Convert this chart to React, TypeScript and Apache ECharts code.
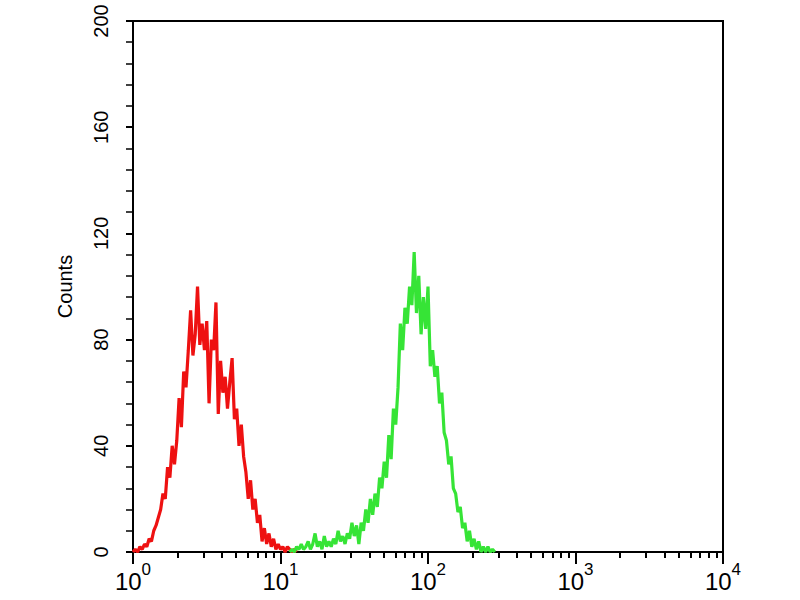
import React, { useEffect, useRef } from "react";
import * as echarts from "echarts";

// Flow-cytometry histogram: 1024 channels over 4 log decades
const CHANNELS_PER_DECADE = 256;
const CHANNEL_STEP = 4;

const redStartChannel = 0;
const redCounts = [
  0, 1, 0, 2, 1, 3, 2, 5, 4, 8,
  10, 13, 16, 22, 20, 32, 28, 40, 33, 42,
  58, 47, 68, 62, 76, 91, 74, 82, 100, 78,
  86, 76, 87, 56, 80, 76, 94, 52, 72, 60,
  66, 54, 64, 73, 50, 54, 40, 48, 36, 30,
  20, 27, 16, 20, 11, 14, 4, 9, 3, 7,
  2, 5, 1, 3, 1, 2, 0, 2, 1, 0,
  1, 0,
];

const greenStartChannel = 272;
const greenCounts = [
  0, 1, 0, 2, 1, 3, 1, 2, 4, 1,
  3, 7, 2, 4, 1, 6, 2, 4, 2, 5,
  3, 8, 4, 6, 3, 7, 5, 11, 6, 10,
  3, 11, 8, 16, 11, 20, 14, 22, 17, 28,
  24, 34, 28, 44, 35, 54, 48, 62, 86, 76,
  92, 86, 100, 93, 113, 90, 104, 82, 96, 84,
  100, 70, 76, 66, 70, 56, 60, 45, 42, 33,
  36, 24, 22, 15, 17, 9, 11, 4, 8, 2,
  5, 1, 4, 0, 2, 0, 2, 0, 1, 0,
];

const decadeExponents = [0, 1, 2, 3, 4];
const minorMultipliers = [2, 3, 4, 5, 6, 7, 8, 9];
const yMax = 200;
const yInterval = 40;

const FONT = "'Liberation Sans', Arial, sans-serif";

function toPoints(start: number, counts: number[]) {
  return counts.map((c, i) => [(start + i * CHANNEL_STEP) / CHANNELS_PER_DECADE, c]);
}

export default function App() {
  const ref = useRef<HTMLDivElement>(null);

  useEffect(() => {
    if (!ref.current) return;
    const chart = echarts.init(ref.current, null, { renderer: "svg" });

    const minorTicks: number[] = [];
    decadeExponents.slice(0, -1).forEach((d) => {
      minorMultipliers.forEach((m) => minorTicks.push(d + Math.log10(m)));
    });

    const axisLineStyle = { color: "#000", width: 2 };

    chart.setOption({
      animation: false,
      backgroundColor: "#fff",
      grid: {
        left: 133,
        right: 77,
        top: 21,
        bottom: 48,
        show: true,
        borderColor: "#000",
        borderWidth: 2,
        backgroundColor: "transparent",
      },
      xAxis: [
        {
          type: "value",
          min: 0,
          max: 4,
          position: "bottom",
          splitLine: { show: false },
          axisLine: { show: true, lineStyle: axisLineStyle },
          axisTick: {
            show: true,
            inside: false,
            length: 12,
            lineStyle: { color: "#000", width: 2 },
            customValues: decadeExponents,
          },
          axisLabel: {
            show: true,
            margin: 9,
            customValues: decadeExponents,
            formatter: (v: number) => `{b|10}{s|${Math.round(v)}}`,
            rich: {
              b: { fontSize: 24, fontFamily: FONT, color: "#000", lineHeight: 32, verticalAlign: "bottom" },
              s: { fontSize: 17, fontFamily: FONT, color: "#000", lineHeight: 32, verticalAlign: "top" },
            },
          },
        },
        {
          type: "value",
          min: 0,
          max: 4,
          position: "bottom",
          splitLine: { show: false },
          axisLine: { show: false },
          axisLabel: { show: false },
          axisTick: {
            show: true,
            inside: false,
            length: 6,
            lineStyle: { color: "#000", width: 2 },
            customValues: minorTicks,
          },
        },
      ],
      yAxis: {
        type: "value",
        min: 0,
        max: yMax,
        interval: yInterval,
        name: "Counts",
        nameLocation: "middle",
        nameRotate: 90,
        nameGap: 58,
        nameTextStyle: { fontSize: 20, fontFamily: FONT, color: "#000" },
        splitLine: { show: false },
        axisLine: { show: true, lineStyle: axisLineStyle },
        axisTick: { show: true, length: 7, lineStyle: { color: "#000", width: 2 } },
        minorTick: { show: true, splitNumber: 5, length: 7, lineStyle: { color: "#000", width: 1.5 } },
        axisLabel: {
          rotate: 90,
          margin: 22,
          fontSize: 20,
          fontFamily: FONT,
          color: "#000",
        },
      },
      series: [
        {
          type: "line",
          xAxisIndex: 0,
          data: toPoints(redStartChannel, redCounts),
          showSymbol: false,
          lineStyle: { color: "#ee1111", width: 3.2 },
          itemStyle: { color: "#ee1111" },
        },
        {
          type: "line",
          xAxisIndex: 0,
          data: toPoints(greenStartChannel, greenCounts),
          showSymbol: false,
          lineStyle: { color: "#36e436", width: 3.2 },
          itemStyle: { color: "#36e436" },
        },
      ],
    });

    return () => chart.dispose();
  }, []);

  return (
    <div
      ref={ref}
      style={{ position: "fixed", left: 0, top: 0, width: 800, height: 600, background: "#fff" }}
    />
  );
}
